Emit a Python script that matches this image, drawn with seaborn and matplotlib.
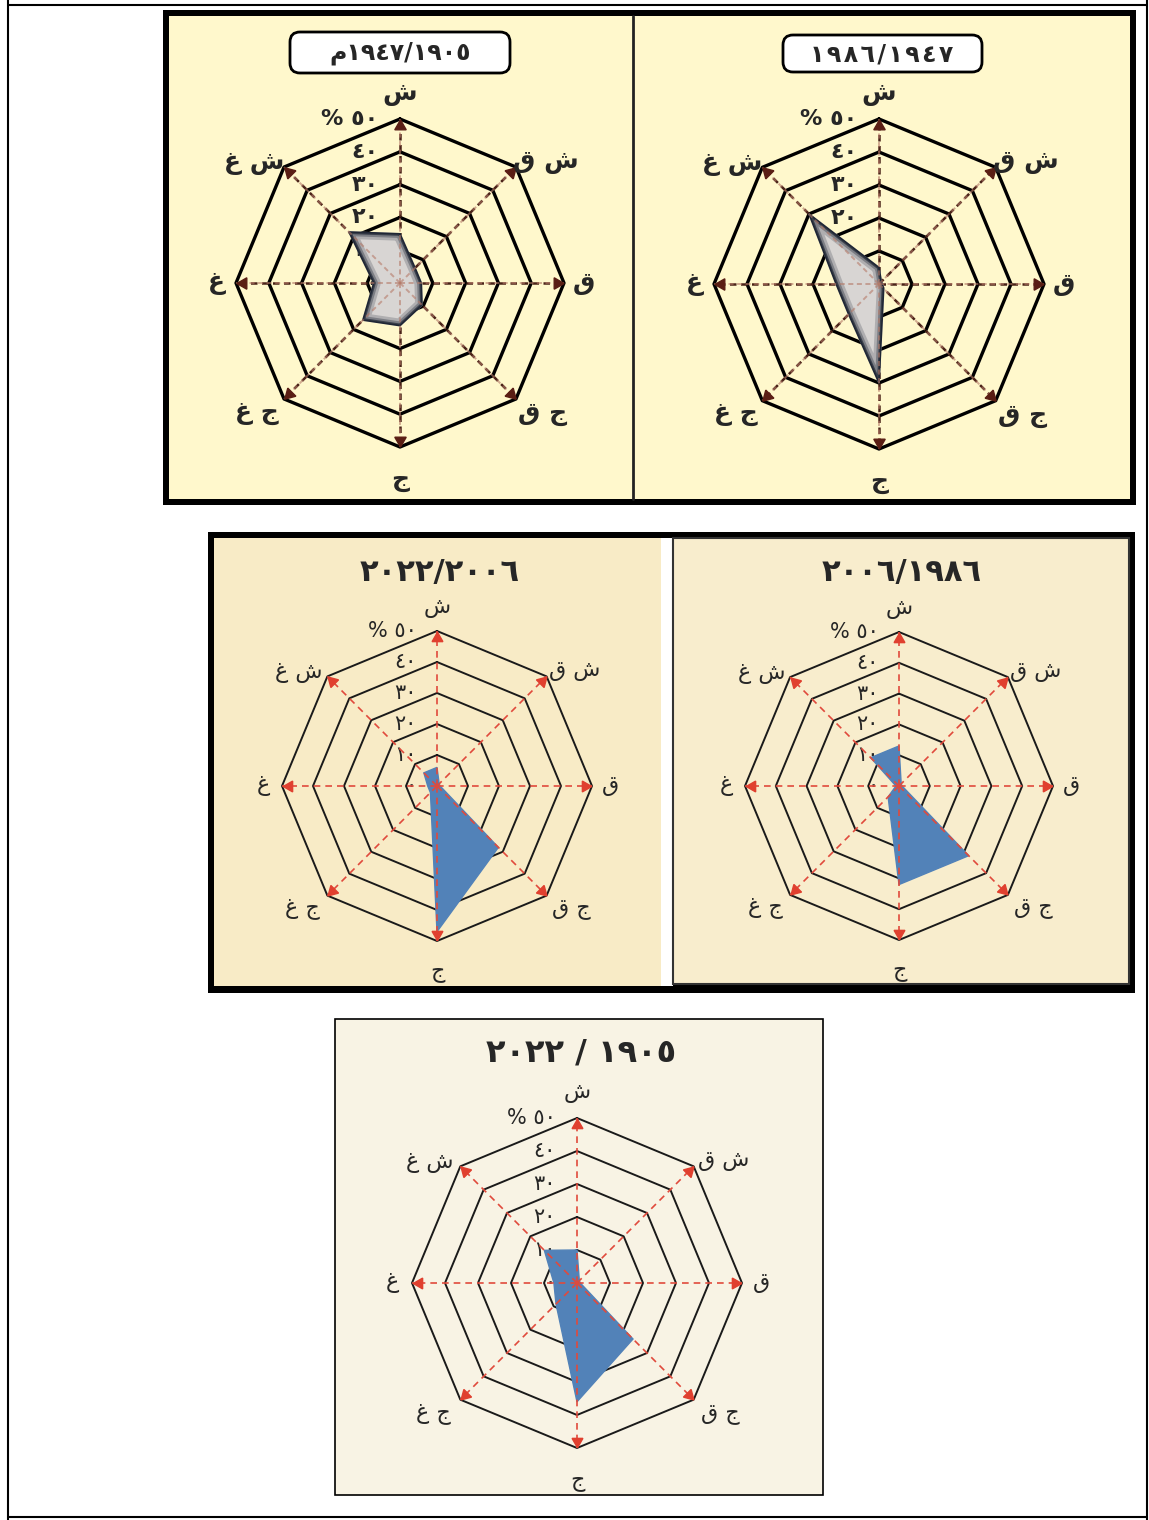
import numpy as np
import matplotlib.pyplot as plt
from matplotlib.patches import Rectangle, FancyBboxPatch
import seaborn as sns

# compass sectors (logical arabic order) and ring scale
directions = ['ش', 'ش ق', 'ق', 'ج ق', 'ج', 'ج غ', 'غ', 'ش غ']
ring_levels = [0, 10, 20, 30, 40, 50]
ring_labels = ['٠', '١٠', '٢٠', '٣٠', '٤٠', '% ٥٠']

# percentage of growth per direction
p1905_1947 = [15, 6.5, 6.5, 9.5, 13, 16, 8, 22]
p1947_1986 = [5, 1, 1, 2, 30, 13, 13, 30]
p1986_2006 = [13, 1, 1, 32, 32, 5, 1, 13]
p2006_2022 = [6, 1, 1, 28, 47, 3, 3, 6]
p1905_2022 = [10, 1, 1, 24, 36, 9, 7, 14]

# titles as they read on the page
titles = ['م١٩٤٧/١٩٠٥', '١٩٨٦/١٩٤٧', '٢٠٠٦/١٩٨٦', '٢٠٢٢/٢٠٠٦', '٢٠٢٢ / ١٩٠٥']

W, H = 1149, 1520
sns.set_style("white")
plt.rcParams['font.family'] = ['DejaVu Sans']

fig = plt.figure(figsize=(W / 100, H / 100), dpi=100)
bg = fig.add_axes([0, 0, 1, 1])
bg.set_xlim(0, W)
bg.set_ylim(H, 0)
bg.axis('off')

# page frame
for xs, ys in [([8, 8], [0, H]), ([1147, 1147], [0, H]), ([8, 1147], [5, 5]), ([8, 1147], [1517, 1517])]:
    bg.plot(xs, ys, color='black', lw=1.5)

# top box
bg.add_patch(Rectangle((163, 10), 973, 495, fc='black', ec='none'))
bg.add_patch(Rectangle((169, 16), 961, 483, fc='#FFF8CC', ec='none'))
bg.plot([633, 633], [16, 499], color='#222222', lw=2)

# middle box
bg.add_patch(Rectangle((208, 532), 927, 461, fc='black', ec='none'))
bg.add_patch(Rectangle((214, 538), 447, 448, fc='#F8EBC6', ec='none'))
bg.add_patch(Rectangle((661, 538), 12, 448, fc='white', ec='none'))
bg.add_patch(Rectangle((673, 538), 456, 446, fc='#F8EDCD', ec='#333333', lw=1.5))

# bottom box
bg.add_patch(Rectangle((335, 1019), 488, 476, fc='#F8F3E4', ec='black', lw=1.2))

# title boxes of the top charts
bg.add_patch(FancyBboxPatch((290, 32), 220, 41, boxstyle='round,pad=0,rounding_size=10',
                            fc='white', ec='black', lw=2))
bg.add_patch(FancyBboxPatch((783, 35), 199, 37, boxstyle='round,pad=0,rounding_size=10',
                            fc='white', ec='black', lw=2))

bg.text(400, 53, titles[0], ha='center', va='center', fontsize=17, fontweight='bold')
bg.text(882, 54, '\u200a'.join(titles[1]), ha='center', va='center', fontsize=17, fontweight='bold')
bg.text(902, 572, titles[2], ha='center', va='center', fontsize=22, fontweight='bold')
bg.text(440, 572, titles[3], ha='center', va='center', fontsize=22, fontweight='bold')
bg.text(581, 1053, titles[4], ha='center', va='center', fontsize=23, fontweight='bold')

ang = np.deg2rad(np.arange(8) * 45)
ux, uy = np.sin(ang), np.cos(ang)
lab_pos = [(0, 57.5), (44.5, 37), (56, 0), (43.5, -40), (0, -60), (-43.5, -39.5), (-56, 0), (-44.5, 36.5)]


def radar(cx, cy, R, values, old):
    half = 1.35 * R
    ax = fig.add_axes([(cx - half) / W, 1 - (cy + half) / H, 2 * half / W, 2 * half / H])
    lim = 67.5
    ring_c, ring_lw = ('black', 2.4) if old else ('#1A1A1A', 1.4)
    rad_c = '#4A2318' if old else '#E04A3C'
    arr_c = '#5A1E14' if old else '#E0402F'
    weight = 'bold' if old else 'normal'

    for lev in ring_levels[1:]:
        sns.lineplot(x=np.append(ux, ux[0]) * lev, y=np.append(uy, uy[0]) * lev,
                     sort=False, estimator=None, color=ring_c, lw=ring_lw, ax=ax, zorder=1)

    vals = np.array(values, dtype=float)
    vx = np.append(vals * ux, vals[0] * ux[0])
    vy = np.append(vals * uy, vals[0] * uy[0])

    dash = (0, (2.6, 1.8)) if old else (0, (4, 3))
    rlw = 1.8 if old else 1.2
    for i in range(8):
        ax.plot([0, 50 * ux[i]], [0, 50 * uy[i]], ls=dash, color=rad_c, lw=rlw,
                zorder=1.5 if old else 3)

    if old:
        poly = ax.fill(vx, vy, color='#D8D5D3', zorder=2)[0]
        for lw_, a in [(10, 0.22), (6, 0.35), (3, 0.7)]:
            ln, = ax.plot(vx, vy, color='#1F2634', lw=lw_, alpha=a, zorder=2.5,
                          solid_joinstyle='round')
            ln.set_clip_path(poly)
        ax.plot(vx, vy, color='#1F2634', lw=1.2, zorder=2.6)
        for i in range(8):
            ax.plot([0, 50 * ux[i]], [0, 50 * uy[i]], ls=dash, color='#B57A68',
                    lw=1.4, alpha=0.6, zorder=2.7)
    else:
        ax.fill(vx, vy, color='#5282B8', zorder=2)

    r_a = 47.8
    for i in range(8):
        ax.plot(r_a * ux[i], r_a * uy[i], marker=(3, 0, -45 * i), ms=9.5 if old else 9,
                color=arr_c, ls='none', zorder=4)

    for lev, lab in zip(ring_levels, ring_labels):
        ax.text(-6.5, lev, lab, ha='right', va='center', fontsize=16 if old else 15,
                fontweight=weight, zorder=1.8)

    for d, (lx, ly) in zip(directions, lab_pos):
        ax.text(lx, ly, ' '.join(reversed(d.split())), ha='center', va='center',
                fontsize=18 if old else 16, fontweight=weight, zorder=5)

    ax.set_xlim(-lim, lim)
    ax.set_ylim(-lim, lim)
    ax.set_aspect('equal')
    ax.axis('off')


radar(400, 283, 164, p1905_1947, True)
radar(879, 284, 165, p1947_1986, True)
radar(899, 786, 154, p1986_2006, False)
radar(437, 786, 155, p2006_2022, False)
radar(577, 1283, 165, p1905_2022, False)

fig.savefig('out.png', dpi=100)
